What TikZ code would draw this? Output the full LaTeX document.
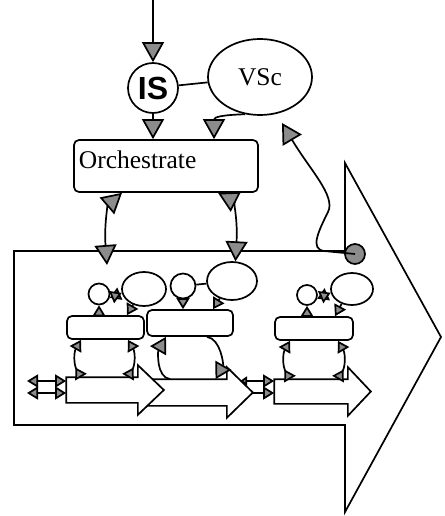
\documentclass[tikz,border=0pt]{standalone}
\usepackage{fontspec}
\setmainfont{Liberation Serif}
\newfontfamily\isfont{Liberation Sans}
\usetikzlibrary{arrows.meta, shapes.geometric}
\colorlet{headgray}{black!45}

\begin{document}
\begin{tikzpicture}[x=1pt, y=-1pt, line width=1.7pt,
  every node/.style={inner sep=0pt},
  procbox/.style={draw, rounded corners=5pt},
  bigarr/.style={-{Triangle[length=20pt,width=22pt,fill=headgray]}},
  bigdbl/.style={{Triangle[length=20pt,width=22pt,fill=headgray]}-{Triangle[length=20pt,width=22pt,fill=headgray]}},
  midarr/.style={-{Triangle[length=16pt,width=18pt,fill=headgray]}},
  smallarr/.style={-{Triangle[length=11pt,width=13pt,fill=headgray]}},
  smalldbl/.style={{Triangle[length=11pt,width=13pt,fill=headgray]}-{Triangle[length=11pt,width=13pt,fill=headgray]}},
  smallup/.style={{Triangle[reversed,length=11pt,width=13pt,fill=headgray]}-{Triangle[length=11pt,width=13pt,fill=headgray]}}]
	\useasboundingbox (0,0) rectangle (444,516);
	\draw (14,251) -- (345,251) -- (345,163) -- (441,337) -- (345,512) -- (345,425) -- (14,425) -- cycle;
	\node[circle, draw, minimum size=50pt, font=\fontsize{32}{32}\selectfont\isfont\bfseries] (is) at (153,88) {IS};
	\node[ellipse, draw, minimum width=104pt, minimum height=76pt, font=\fontsize{25.5}{30}\selectfont] (vsc) at (260,77) {VSc};
	\node[procbox, minimum width=184pt, minimum height=52pt] (orch) at (166,166) {};
	\node[anchor=base west, font=\fontsize{25.5}{30}\selectfont] (orchtext) at (78,168) {Orchestrate};
	\node[circle, draw, fill=headgray, minimum size=20pt] (dot) at (355,254) {};
	\coordinate (top) at (153,0);
	\coordinate (fb) at (282,123);
	\coordinate (w1) at (107,265);
	% sub-processes
	\node[circle, draw, minimum size=21pt] (c1) at (99,294) {};
	\node[ellipse, draw, minimum width=44pt, minimum height=34pt] (e1) at (144,289) {};
	\node[procbox, minimum width=77pt, minimum height=23pt] (b1) at (105.5,327.5) {};
	\node[minimum width=70pt, minimum height=24pt] (a1) at (102,390) {};
	\node[circle, draw, minimum size=25pt] (c2) at (183,286) {};
	\node[ellipse, draw, minimum width=50pt, minimum height=38pt] (e2) at (232,281) {};
	\node[procbox, minimum width=86pt, minimum height=26pt] (b2) at (190,323) {};
	\node[minimum width=79pt, minimum height=25pt] (a2) at (186.5,392.5) {};
	\node[circle, draw, minimum size=20pt] (c3) at (307,295) {};
	\node[ellipse, draw, minimum width=42pt, minimum height=32pt] (e3) at (352,289) {};
	\node[procbox, minimum width=78pt, minimum height=23pt] (b3) at (314,328.5) {};
	\node[minimum width=72pt, minimum height=23pt] (a3) at (311,391.5) {};
	\foreach \a/\t in {a2/26pt,a1/26pt,a3/23pt}
	  \draw[fill=white] (\a.north west) -- (\a.north east) -- ([yshift=12pt]\a.north east)
	    -- ([xshift=\t]\a.east) -- ([yshift=-12pt]\a.south east) -- (\a.south east)
	    -- (\a.south west) -- cycle;
	\coordinate (l1) at (27,381);
	\coordinate (l2) at (27,393);
	\coordinate (m1) at (240,381);
	\coordinate (m2) at (252,393);
	% top level
	\draw[bigarr] (top) -- (is);
	\draw (is) -- (vsc);
	\draw[bigarr] (is.south) -- (is.south |- orch.north);
	\draw[bigarr] (vsc.-112) .. controls (222,115) and (214,117) .. ([xshift=48pt]orch.north);
	\draw[bigdbl] ([xshift=-44pt]orch.south) .. controls (108,205) and (104,225) .. (w1);
	\draw[bigdbl] ([xshift=52pt]orch.south) .. controls (232,200) and (238,215) .. (e2.80);
	\draw[bigarr] (dot.center) -- (324,251) .. controls (310,249) and (318,232) .. (328,212)
	  .. controls (336,196) and (310,170) .. (fb);
	% first
	\draw[smalldbl] (c1.-20) -- (e1.190);
	\draw[smallarr] (e1.235) -- ([xshift=21.5pt]b1.north);
	\draw[smallarr] ([xshift=-6.5pt]b1.north) -- (c1.south);
	\draw[smallup] ([xshift=-21pt]a1.north) to[bend left=30] ([xshift=-24.5pt]b1.south);
	\draw[smallup] ([xshift=26pt]a1.north) to[bend right=30] ([xshift=22.5pt]b1.south);
	\draw[smalldbl] (l1) -- ([yshift=9pt]a1.west);
	\draw[smalldbl] (l2) -- ([yshift=-3pt]a1.west);
	% second
	\draw (c2) -- (e2);
	\draw[smallarr] (c2.south) -- ([xshift=-7pt]b2.north);
	\draw[smallarr] (e2.235) -- ([xshift=23pt]b2.north);
	\draw[midarr] ([xshift=-16.5pt]a2.north) .. controls +(-14,-2) and +(-8,14) .. ([xshift=-24pt]b2.south);
	\draw[midarr] ([xshift=17pt]b2.south) .. controls +(14,2) and +(8,-14) .. ([xshift=29pt]a2.north);
	\draw[{Triangle[length=7pt,width=9pt,fill=headgray]}-{Triangle[length=11pt,width=13pt,fill=headgray]}] (m1) -- ([yshift=10.5pt]a3.west);
	\draw[smallarr] (m2) -- ([yshift=-1.5pt]a3.west);
	% third
	\draw[smalldbl] (c3.-20) -- (e3.190);
	\draw[smallarr] (e3.235) -- ([xshift=21pt]b3.north);
	\draw[smallarr] ([xshift=-7pt]b3.north) -- (c3.south);
	\draw[smallup] ([xshift=-21pt]a3.north) to[bend left=30] ([xshift=-24pt]b3.south);
	\draw[smallup] ([xshift=27pt]a3.north) to[bend right=30] ([xshift=24pt]b3.south);
\end{tikzpicture}
\end{document}
